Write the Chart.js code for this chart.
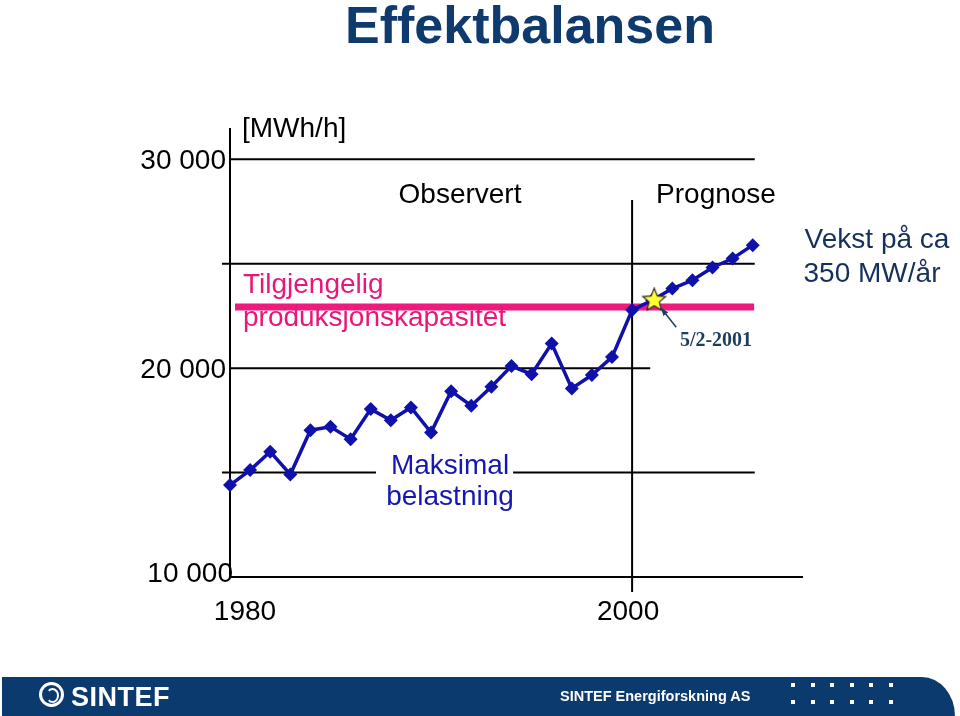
<!DOCTYPE html>
<html>
<head>
<meta charset="utf-8">
<script src="https://cdn.jsdelivr.net/npm/chart.js@4.4.1/dist/chart.umd.min.js"></script>
<style>
body { margin: 0; background: #fff; width: 960px; height: 716px; overflow: hidden; position: relative; }
#chart { position: absolute; left: 0; top: 0; }
#footer { position: absolute; left: 2px; top: 677px; width: 953px; height: 39px; background: #0a3a6e; border-top-right-radius: 34px 40px; }
#footer .txt { position: absolute; left: 558px; top: 11px; color: #fff; font: bold 14.5px "Liberation Sans", Arial, sans-serif; white-space: nowrap; }
#footer .logo { position: absolute; left: 69px; top: 5px; color: #fff; font: bold 27px "Liberation Sans", Arial, sans-serif; letter-spacing: 0.5px; }
#footer .ring { position: absolute; left: 37px; top: 5px; width: 25px; height: 25px; border: 3px solid #fff; border-radius: 50%; box-sizing: border-box; }
#footer .ring i { position: absolute; left: 4px; top: 3px; width: 9px; height: 11px; border: 2px solid #fff; border-left-color: transparent; border-radius: 50%; }
#footer .dot { position: absolute; width: 4px; height: 4px; background: #fff; }
</style>
</head>
<body>
<canvas id="chart" width="960" height="716"></canvas>
<div id="footer">
  <div class="ring"><i></i></div>
  <div class="logo">SINTEF</div>
  <div class="txt">SINTEF Energiforskning AS</div>
</div>
<script>
"use strict"
// maksimal belastning (MWh/h) per year
let years = [1980, 1981, 1982, 1983, 1984, 1985, 1986, 1987, 1988, 1989, 1990, 1991, 1992, 1993,
    1994, 1995, 1996, 1997, 1998, 1999, 2000, 2001, 2002, 2003, 2004, 2005, 2006];
let load = [14400, 15120, 16000, 14910, 17030, 17190, 16600, 18040, 17510, 18120, 16920, 18900, 18200, 19110,
    20100, 19710, 21180, 19030, 19670, 20530, 22780, 23250, 23810, 24210, 24820, 25250, 25890];
// tilgjengelig produksjonskapasitet
let capYears = [1980.25, 2006.07];
let capacity = [22930, 22930];
// 5/2-2001
let starYears = [2001.1];
let starLoad = [23250];
let yTicks = [10000, 20000, 30000];
let xTicks = [1980, 2000];

let footer = document.getElementById('footer');
for (let r = 0; r < 2; r++) {
    for (let i = 0; i < 6; i++) {
        let d = document.createElement('div');
        d.className = 'dot';
        d.style.left = (789 + i * 19.6) + 'px';
        d.style.top = (6 + r * 17) + 'px';
        footer.appendChild(d);
    }
}

function makeStar(size) {
    let c = document.createElement('canvas');
    c.width = size; c.height = size;
    let g = c.getContext('2d');
    let cx = size / 2, cy = size / 2, ro = size / 2 - 1, ri = ro * 0.45;
    g.beginPath();
    for (let k = 0; k < 10; k++) {
        let a = -Math.PI / 2 + k * Math.PI / 5;
        let r = k % 2 ? ri : ro;
        g.lineTo(cx + r * Math.cos(a), cy + r * Math.sin(a));
    }
    g.closePath();
    g.fillStyle = '#ffff33';
    g.fill();
    g.strokeStyle = '#2a2a2a';
    g.lineWidth = 1.2;
    g.stroke();
    return c;
}

const font = '"Liberation Sans", Arial, sans-serif';

let decor = {
    id: 'decor',
    beforeDatasetsDraw(chart) {
        let ctx = chart.ctx;
        let x = chart.scales.x, y = chart.scales.y;
        ctx.save();
        ctx.strokeStyle = '#000';
        ctx.lineWidth = 2;
        let hSeg = [[30000, 1980, 2006.1], [25000, 1979.6, 2006.1], [20000, 1980, 2000.9],
            [15000, 1979.6, 1987.26], [15000, 1994.08, 2006.1], [10000, 1980, 2008.5]];
        hSeg.forEach(s => {
            ctx.beginPath();
            ctx.moveTo(x.getPixelForValue(s[1]), y.getPixelForValue(s[0]));
            ctx.lineTo(x.getPixelForValue(s[2]), y.getPixelForValue(s[0]));
            ctx.stroke();
        });
        let vSeg = [[1980, 31500, 10000], [2000, 28050, 9280]];
        vSeg.forEach(s => {
            ctx.beginPath();
            ctx.moveTo(x.getPixelForValue(s[0]), y.getPixelForValue(s[1]));
            ctx.lineTo(x.getPixelForValue(s[0]), y.getPixelForValue(s[2]));
            ctx.stroke();
        });
        ctx.restore();
    },
    afterDraw(chart) {
        let ctx = chart.ctx;
        let x = chart.scales.x, y = chart.scales.y;
        ctx.save();
        // title
        ctx.fillStyle = '#0e3a6e';
        ctx.textAlign = 'center';
        ctx.font = 'bold 52px ' + font;
        ctx.fillText('Effektbalansen', 530, 43);

        ctx.font = '28px ' + font;
        ctx.fillStyle = '#000';
        ctx.textAlign = 'right';
        yTicks.forEach(v => {
            let dx = v === 10000 ? 233 : 226;
            let dy = v === 10000 ? 5 : 10;
            ctx.fillText(v.toLocaleString('nb-NO').replace(/\s/g, ' '), dx, y.getPixelForValue(v) + dy);
        });
        ctx.textAlign = 'center';
        xTicks.forEach(v => {
            let off = v === 1980 ? 15 : -4;
            ctx.fillText(String(v), x.getPixelForValue(v) + off, 620);
        });
        ctx.textAlign = 'left';
        ctx.fillText('[MWh/h]', 242, 137);
        ctx.textAlign = 'center';
        ctx.fillText('Observert', 460, 203);
        ctx.fillText('Prognose', 716, 203);

        ctx.fillStyle = '#e8177b';
        ctx.textAlign = 'left';
        ctx.fillText('Tilgjengelig', 243, 293);
        ctx.fillText('produksjonskapasitet', 243, 326);

        ctx.fillStyle = '#1616b0';
        ctx.textAlign = 'center';
        ctx.fillText('Maksimal', 450, 474);
        ctx.fillText('belastning', 450, 505);

        ctx.fillStyle = '#15305e';
        ctx.fillText('Vekst på ca', 877, 248);
        ctx.fillText('350 MW/år', 872, 282);

        // star label + arrow
        let sx = x.getPixelForValue(starYears[0]), sy = y.getPixelForValue(starLoad[0]);
        ctx.fillStyle = '#1f3d5f';
        ctx.font = 'bold 20px "Liberation Serif", "Times New Roman", serif';
        ctx.fillText('5/2-2001', 716, 346);
        ctx.strokeStyle = '#1f3d5f';
        ctx.lineWidth = 1.5;
        let ax = sx + 7, ay = sy + 8, bx = sx + 22, by = sy + 27;
        ctx.beginPath();
        ctx.moveTo(bx, by);
        ctx.lineTo(ax, ay);
        ctx.stroke();
        let ang = Math.atan2(ay - by, ax - bx);
        ctx.beginPath();
        ctx.moveTo(ax, ay);
        ctx.lineTo(ax - 8 * Math.cos(ang - 0.4), ay - 8 * Math.sin(ang - 0.4));
        ctx.lineTo(ax - 8 * Math.cos(ang + 0.4), ay - 8 * Math.sin(ang + 0.4));
        ctx.closePath();
        ctx.fillStyle = '#1f3d5f';
        ctx.fill();
        ctx.restore();
    }
};

let ctx = document.getElementById('chart').getContext('2d');
let myChart = new Chart(ctx, {
    type: 'line',
    data: {
        datasets: [{
            label: 'Tilgjengelig produksjonskapasitet',
            data: capYears.map((v, i) => ({ x: v, y: capacity[i] })),
            borderColor: '#ee1a7e',
            borderWidth: 7,
            pointRadius: 0,
            order: 3
        }, {
            label: 'Maksimal belastning',
            data: years.map((v, i) => ({ x: v, y: load[i] })),
            borderColor: '#1010aa',
            backgroundColor: '#1010aa',
            borderWidth: 3.5,
            pointStyle: 'rectRot',
            pointRadius: 7,
            pointBorderWidth: 0,
            order: 2
        }, {
            label: '5/2-2001',
            data: starYears.map((v, i) => ({ x: v, y: starLoad[i] })),
            showLine: false,
            pointStyle: makeStar(26),
            pointRadius: 13,
            order: 1
        }]
    },
    options: {
        responsive: false,
        devicePixelRatio: 1,
        animation: false,
        clip: false,
        layout: { padding: { left: 230, right: 157, top: 128, bottom: 139 } },
        plugins: { legend: { display: false }, tooltip: { enabled: false } },
        scales: {
            x: { type: 'linear', min: 1980, max: 2008.5, display: false },
            y: { min: 10000, max: 31500, display: false }
        }
    },
    plugins: [decor]
});
</script>
</body>
</html>
